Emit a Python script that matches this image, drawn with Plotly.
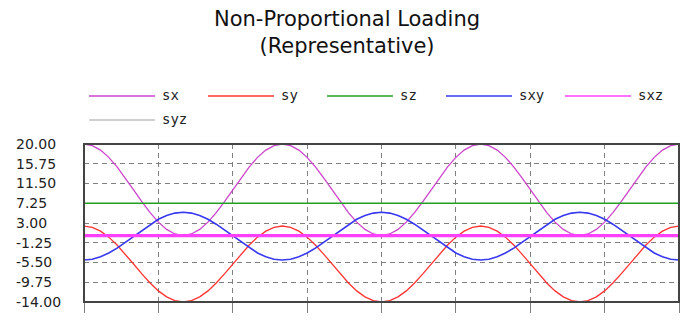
import plotly.graph_objects as go

W, H = 691, 326

# ---- data ----
x_idx = list(range(73))

sx = [20.0, 19.66, 18.68, 17.12, 15.08, 12.70, 10.15, 7.60, 5.23, 3.18, 1.62, 0.64,
      0.30, 0.64, 1.62, 3.18, 5.23, 7.60, 10.15, 12.70, 15.08, 17.12, 18.68, 19.66,
      20.0, 19.66, 18.68, 17.12, 15.08, 12.70, 10.15, 7.60, 5.23, 3.18, 1.62, 0.64,
      0.30, 0.64, 1.62, 3.18, 5.23, 7.60, 10.15, 12.70, 15.08, 17.12, 18.68, 19.66,
      20.0, 19.66, 18.68, 17.12, 15.08, 12.70, 10.15, 7.60, 5.23, 3.18, 1.62, 0.64,
      0.30, 0.64, 1.62, 3.18, 5.23, 7.60, 10.15, 12.70, 15.08, 17.12, 18.68, 19.66,
      20.0]

sy = [2.35, 2.07, 1.25, -0.04, -1.74, -3.71, -5.83, -7.94, -9.91, -11.61, -12.90, -13.72,
      -14.0, -13.72, -12.90, -11.61, -9.91, -7.94, -5.83, -3.71, -1.74, -0.04, 1.25, 2.07,
      2.35, 2.07, 1.25, -0.04, -1.74, -3.71, -5.83, -7.94, -9.91, -11.61, -12.90, -13.72,
      -14.0, -13.72, -12.90, -11.61, -9.91, -7.94, -5.83, -3.71, -1.74, -0.04, 1.25, 2.07,
      2.35, 2.07, 1.25, -0.04, -1.74, -3.71, -5.83, -7.94, -9.91, -11.61, -12.90, -13.72,
      -14.0, -13.72, -12.90, -11.61, -9.91, -7.94, -5.83, -3.71, -1.74, -0.04, 1.25, 2.07,
      2.35]

sz = [7.25] * 73

sxy = [-4.96, -4.79, -4.27, -3.46, -2.40, -1.16, 0.17, 1.50, 2.74, 3.80, 4.61, 5.13,
       5.30, 5.13, 4.61, 3.80, 2.74, 1.50, 0.17, -1.16, -2.40, -3.46, -4.27, -4.79,
       -4.96, -4.79, -4.27, -3.46, -2.40, -1.16, 0.17, 1.50, 2.74, 3.80, 4.61, 5.13,
       5.30, 5.13, 4.61, 3.80, 2.74, 1.50, 0.17, -1.16, -2.40, -3.46, -4.27, -4.79,
       -4.96, -4.79, -4.27, -3.46, -2.40, -1.16, 0.17, 1.50, 2.74, 3.80, 4.61, 5.13,
       5.30, 5.13, 4.61, 3.80, 2.74, 1.50, 0.17, -1.16, -2.40, -3.46, -4.27, -4.79,
       -4.96]

sxz = [0.30] * 73
syz = [0.30] * 73

series_names = ["sx", "sy", "sz", "sxy", "sxz", "syz"]
series_values = [sx, sy, sz, sxy, sxz, syz]
series_colors = ["#CC44CC", "#FF3333", "#22A022", "#3838F0", "#FF40FF", "#C0C0C0"]
series_widths = [1.3, 1.3, 1.5, 1.6, 3.2, 1.2]
draw_order = [5, 0, 1, 2, 3, 4]  # syz beneath sxz

y_ticks = [20.00, 15.75, 11.50, 7.25, 3.00, -1.25, -5.50, -9.75, -14.00]
y_tick_text = ["20.00", "15.75", "11.50", "7.25", "3.00", "-1.25", "-5.50", "-9.75", "-14.00"]
x_ticks = [0, 9, 18, 27, 36, 45, 54, 63, 72]

title_text = "Non-Proportional Loading<br>(Representative)"

# ---- layout geometry (pixels) ----
PL, PR, PT, PB = 84, 679, 144, 302

def px(v):
    return v / W

def py(v):
    return 1 - v / H

fig = go.Figure()
for i in draw_order:
    fig.add_trace(go.Scatter(
        x=x_idx, y=series_values[i], name=series_names[i], mode="lines",
        line=dict(color=series_colors[i], width=series_widths[i]),
        showlegend=False, hoverinfo="skip"))

grid_color = "#808080"

fig.update_layout(
    width=W, height=H,
    margin=dict(l=0, r=0, t=0, b=0, autoexpand=False),
    paper_bgcolor="white", plot_bgcolor="white",
    showlegend=False,
    xaxis=dict(domain=[px(PL), px(PR)], range=[0, 72], tickvals=x_ticks,
               showticklabels=False, ticks="outside", ticklen=10, tickcolor=grid_color,
               tickwidth=1, showgrid=True, gridcolor=grid_color, griddash="5px,4px",
               gridwidth=1, zeroline=False, showline=False, fixedrange=True,
               automargin=False),
    yaxis=dict(domain=[py(PB), py(PT)], range=[-14, 20], tickvals=y_ticks,
               ticktext=y_tick_text, anchor="free", side="right", position=px(15),
               ticks="", showline=False, showgrid=True, gridcolor=grid_color,
               griddash="5px,4px", gridwidth=1, zeroline=False,
               tickfont=dict(family="DejaVu Sans", size=14, color="#222222"),
               fixedrange=True, automargin=False),
)

# title
fig.add_annotation(text=title_text, xref="paper", yref="paper", x=px(347), y=py(5),
                   xanchor="center", yanchor="top", showarrow=False, align="center",
                   font=dict(family="DejaVu Sans", size=21, color="#111111"))

# plot frame
fig.add_shape(type="rect", xref="x domain", yref="y domain", x0=0, x1=1, y0=0, y1=1,
              line=dict(color="#444444", width=2), layer="above")

# custom legend (long line samples as in the reference)
leg_line_x = [89, 208, 327, 446, 565, 89]
leg_row_y = [96, 96, 96, 96, 96, 120]
for i, name in enumerate(series_names):
    x0 = leg_line_x[i]
    yy = leg_row_y[i]
    fig.add_shape(type="line", xref="paper", yref="paper",
                  x0=px(x0), x1=px(x0 + 66), y0=py(yy), y1=py(yy),
                  line=dict(color=series_colors[i], width=1.5))
    fig.add_annotation(text=name, xref="paper", yref="paper", x=px(x0 + 71), y=py(yy - 1),
                       xanchor="left", yanchor="middle", showarrow=False,
                       font=dict(family="DejaVu Sans Mono", size=14, color="#222222"))

fig.write_html("out.html")
